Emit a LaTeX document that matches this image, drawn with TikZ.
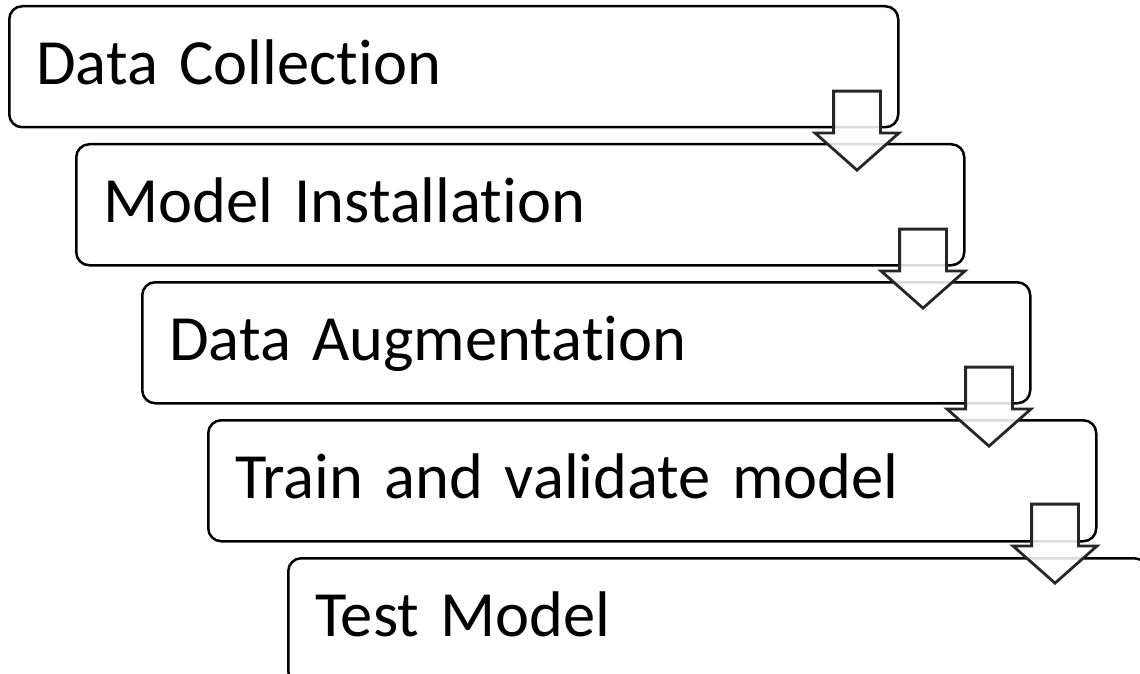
\documentclass[tikz,border=0pt]{standalone}
\usepackage{fontspec}
\setmainfont{Carlito}[Ligatures=NoCommon, WordSpace=0.85]
\usetikzlibrary{shapes.arrows}

\tikzset{
  stepbox/.style={draw=black, line width=2.5pt, rounded corners=13pt, fill=white,
    anchor=north west, inner xsep=27pt, inner ysep=0pt, align=left,
    text height=78pt, text depth=43pt, font=\fontsize{64.5}{70}\selectfont},
  downarrow/.style={single arrow, rotate=-90, anchor=tip, draw=black!85, line width=2.8pt,
    fill=white, fill opacity=0.86, draw opacity=1, inner sep=0pt,
    text height=22pt, text depth=22pt, text width=0pt,
    minimum height=79pt, single arrow head extend=18.5pt,
    single arrow head indent=0pt, single arrow tip angle=97}
}

\begin{document}
\begin{tikzpicture}[x=1pt, y=-1pt]
\clip (0,0) rectangle (1140,674);

\node (0)[stepbox, text width=835pt] at (8,5) {Data Collection};
\node (1)[stepbox, text width=834pt] at (75,143) {Model Installation};
\node (2)[stepbox, text width=834pt] at (141,281) {Data Augmentation};
\node (3)[stepbox, text width=834pt] at (207,419) {Train and validate model};
\node (4)[stepbox, text width=805pt, text depth=48pt] at (287,557) {Test Model};

\node (5)[downarrow] at (857,172) {};
\node (6)[downarrow] at (923,310) {};
\node (7)[downarrow] at (989,448) {};
\node (8)[downarrow] at (1055,585) {};

\end{tikzpicture}
\end{document}
